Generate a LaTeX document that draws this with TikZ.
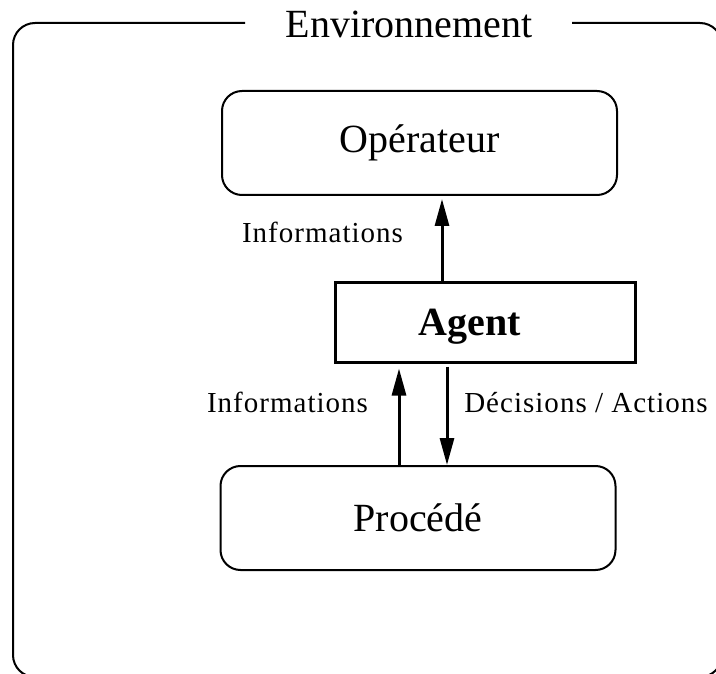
\documentclass[tikz,border=0pt]{standalone}
\usepackage{fontspec}
\setmainfont{Liberation Serif}
\newfontfamily\spacedfont[LetterSpace=3.5]{Liberation Serif}
\usetikzlibrary{arrows.meta}
\tikzset{
 roundbox/.style={draw, line width=2pt, rounded corners=20pt, minimum width=395pt, minimum height=104pt, font=\fontsize{40}{48}\selectfont, inner sep=0pt},
 agentbox/.style={draw, line width=3pt, minimum width=300pt, minimum height=79pt, inner sep=0pt},
 big/.style={font=\fontsize{40}{48}\selectfont, inner sep=0pt},
 small/.style={font=\spacedfont\fontsize{29}{35}\selectfont, inner sep=0pt, anchor=base},
 arr/.style={line width=3pt, -{Triangle[length=27pt,width=14pt]}},
 envline/.style={line width=2pt, rounded corners=22pt},
}
\begin{document}
\begin{tikzpicture}[x=1pt,y=-1pt]
\useasboundingbox (0,0) rectangle (716,674);
\clip (0,0) rectangle (716,674);
\node[big, anchor=base] (env) at (409,38) {Environnement};
\draw[envline] (245,23) -- (13,23) -- (13,677) -- (722,677) -- (722,23) -- (572,23);
\node[roundbox] (op) at (419.5,143) {Opérateur};
\node[agentbox] (agent) at (485,322.5) {};
\node[big, font=\fontsize{40}{48}\selectfont\bfseries, anchor=base] (agenttext) at (470,335) {Agent};
\node[roundbox] (proc) at (418,518) {Procédé};
\coordinate (c1) at (442,0);
\coordinate (c2) at (399,0);
\coordinate (c3) at (447,0);
\draw[arr, shorten >=3pt] (agent.north -| c1) -- (op.south -| c1);
\draw[arr, shorten >=5pt] (proc.north -| c2) -- (agent.south -| c2);
\draw[arr, shorten <=3pt] (agent.south -| c3) -- (proc.north -| c3);
\node[small] (info1) at (322.5,243) {Informations};
\node[small] (info2) at (287.5,412) {Informations};
\node[small] (dec) at (586,412) {Décisions / Actions};
\end{tikzpicture}
\end{document}
